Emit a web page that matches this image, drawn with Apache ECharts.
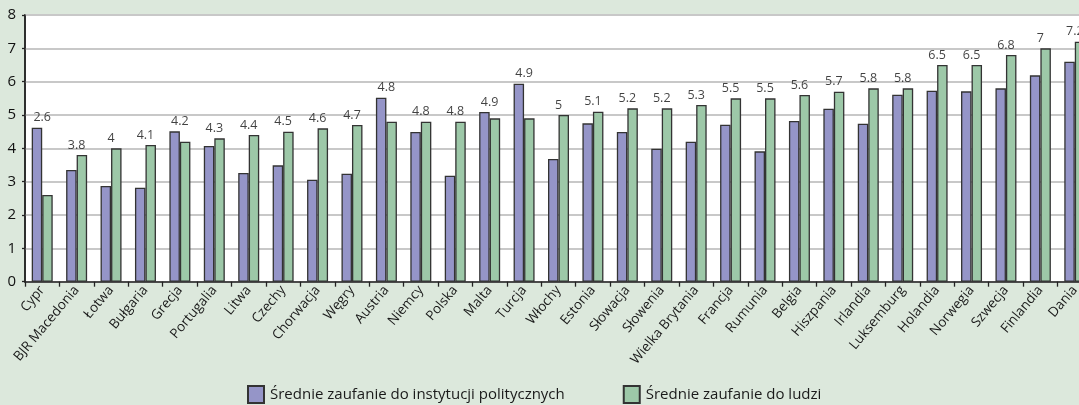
<!DOCTYPE html>
<html>
<head>
<meta charset="UTF-8">
<title>Zaufanie</title>
<script src="https://cdn.jsdelivr.net/npm/echarts@6/dist/echarts.min.js"></script>
<style>
  html, body { margin: 0; padding: 0; background: #dce8dc; }
  #chart { width: 1079px; height: 405px; }
</style>
</head>
<body>
<div id="chart"></div>
<script>
// kraje
var countries = ['Cypr', 'BJR Macedonia', 'Łotwa', 'Bułgaria', 'Grecja', 'Portugalia', 'Litwa', 'Czechy',
  'Chorwacja', 'Węgry', 'Austria', 'Niemcy', 'Polska', 'Malta', 'Turcja', 'Włochy', 'Estonia', 'Słowacja',
  'Słowenia', 'Wielka Brytania', 'Francja', 'Rumunia', 'Belgia', 'Hiszpania', 'Irlandia', 'Luksemburg',
  'Holandia', 'Norwegia', 'Szwecja', 'Finlandia', 'Dania'];

// średnie zaufanie do instytucji politycznych
var trustInstitutions = [4.62, 3.35, 2.87, 2.82, 4.51, 4.07, 3.26, 3.49, 3.06, 3.24, 5.52, 4.49, 3.18, 5.09,
  5.94, 3.68, 4.75, 4.49, 3.99, 4.2, 4.71, 3.91, 4.82, 5.19, 4.74, 5.61, 5.73, 5.71, 5.8, 6.19, 6.6];

// średnie zaufanie do ludzi
var trustPeople = [2.6, 3.8, 4, 4.1, 4.2, 4.3, 4.4, 4.5, 4.6, 4.7, 4.8, 4.8, 4.8, 4.9, 4.9, 5, 5.1, 5.2,
  5.2, 5.3, 5.5, 5.5, 5.6, 5.7, 5.8, 5.8, 6.5, 6.5, 6.8, 7, 7.2];

var yTicks = [0, 1, 2, 3, 4, 5, 6, 7, 8];

var FONT = 'Open Sans';

// etykiety nad parą słupków
var labelPoints = [];
for (var i = 0; i < countries.length; i++) {
  labelPoints.push([i, Math.max(trustInstitutions[i], trustPeople[i])]);
}

var myChart = echarts.init(document.getElementById('chart'));

var option = {
  backgroundColor: '#dce8dc',
  animation: false,
  grid: {
    left: 25,
    top: 15,
    width: 1067,
    height: 266.7,
    containLabel: false,
    outerBoundsMode: 'none',
    show: true,
    backgroundColor: '#ffffff',
    borderColor: '#222',
    borderWidth: 1.5
  },
  legend: {
    left: 247,
    top: 385,
    padding: 0,
    itemWidth: 16,
    itemHeight: 17,
    itemGap: 58,
    icon: 'rect',
    data: ['Średnie zaufanie do instytucji politycznych', 'Średnie zaufanie do ludzi'],
    textStyle: { fontFamily: FONT, fontSize: 15, color: '#1a1a1a', padding: [3, 0, 0, 1] }
  },
  xAxis: {
    type: 'category',
    data: countries,
    axisLine: { lineStyle: { color: '#222', width: 1.5 } },
    axisTick: { show: true, length: 5, lineStyle: { color: '#222', width: 1.3 } },
    axisLabel: {
      interval: 0,
      rotate: 50,
      margin: 6,
      fontFamily: FONT,
      fontSize: 13.5,
      color: '#1a1a1a'
    }
  },
  yAxis: {
    type: 'value',
    min: 0,
    max: 8,
    interval: 1,
    axisLine: { show: true, lineStyle: { color: '#222', width: 1.5 } },
    axisTick: { show: true, length: 3, lineStyle: { color: '#222', width: 1.3 } },
    axisLabel: {
      margin: 9,
      fontFamily: FONT,
      fontSize: 15,
      color: '#111',
      formatter: function (v) { return yTicks.indexOf(v) >= 0 ? String(v) : ''; }
    },
    splitLine: { show: true, lineStyle: { color: '#c8c8c8', width: 2 } }
  },
  series: [
    {
      name: 'Średnie zaufanie do instytucji politycznych',
      type: 'bar',
      data: trustInstitutions,
      barWidth: 10.5,
      barGap: '0%',
      itemStyle: { color: '#9595c8', borderColor: '#333', borderWidth: 1.3 }
    },
    {
      name: 'Średnie zaufanie do ludzi',
      type: 'bar',
      data: trustPeople,
      barWidth: 10.5,
      barGap: '0%',
      itemStyle: { color: '#9dc8a8', borderColor: '#333', borderWidth: 1.3 }
    },
    {
      // wartości zaufania do ludzi nad parą słupków
      type: 'scatter',
      data: labelPoints,
      symbol: 'circle',
      symbolSize: 1,
      itemStyle: { color: 'rgba(0,0,0,0)' },
      silent: true,
      z: 5,
      label: {
        show: true,
        position: 'top',
        distance: 3,
        fontFamily: FONT,
        fontSize: 12.5,
        color: '#111',
        formatter: function (p) { return String(trustPeople[p.dataIndex]); }
      }
    }
  ]
};

myChart.setOption(option);
</script>
</body>
</html>
